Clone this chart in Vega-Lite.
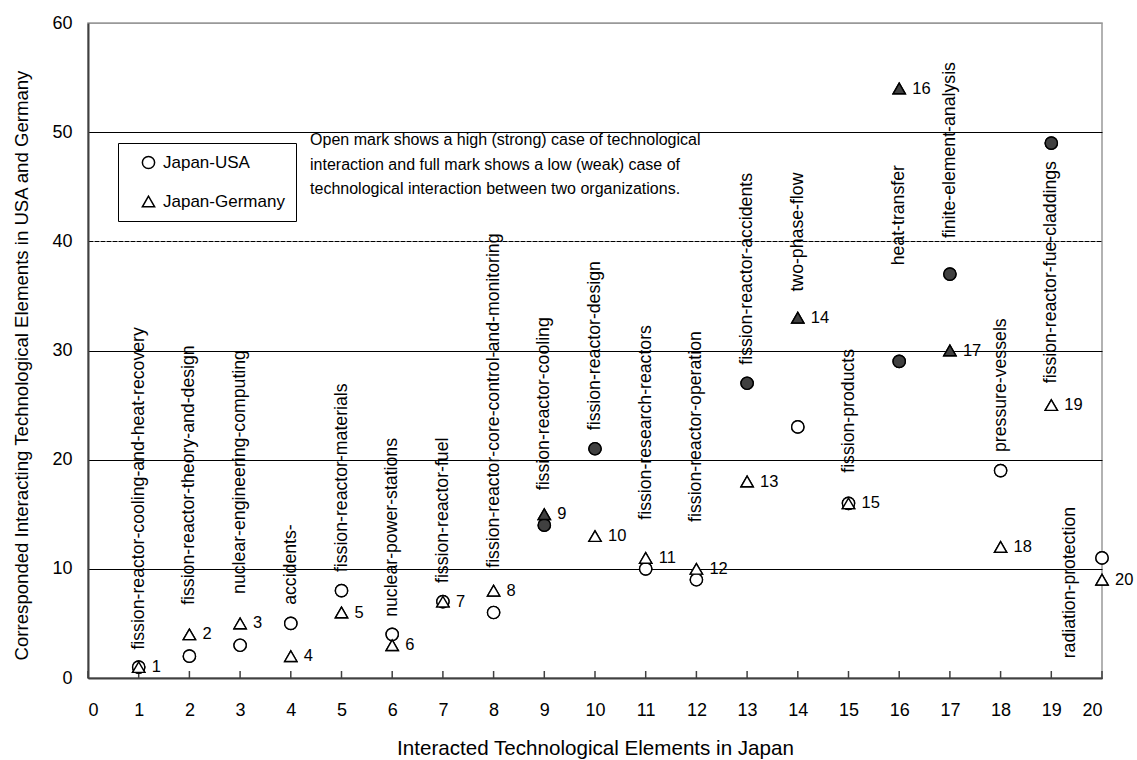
{
  "$schema": "https://vega.github.io/schema/vega-lite/v6.json",
  "width": 1014,
  "height": 655,
  "autosize": {"type": "none"},
  "padding": {"left": 88, "top": 23, "right": 35, "bottom": 82},
  "background": "white",
  "config": {
    "view": {"stroke": "#999999", "strokeWidth": 1.5},
    "font": "Liberation Sans"
  },
  "datasets": {
    "pts": [
      {"x": 1, "series": "Japan-USA", "y": 1, "kind": "open"},
      {"x": 1, "series": "Japan-Germany", "y": 1, "kind": "open"},
      {"x": 2, "series": "Japan-USA", "y": 2, "kind": "open"},
      {"x": 2, "series": "Japan-Germany", "y": 4, "kind": "open"},
      {"x": 3, "series": "Japan-USA", "y": 3, "kind": "open"},
      {"x": 3, "series": "Japan-Germany", "y": 5, "kind": "open"},
      {"x": 4, "series": "Japan-USA", "y": 5, "kind": "open"},
      {"x": 4, "series": "Japan-Germany", "y": 2, "kind": "open"},
      {"x": 5, "series": "Japan-USA", "y": 8, "kind": "open"},
      {"x": 5, "series": "Japan-Germany", "y": 6, "kind": "open"},
      {"x": 6, "series": "Japan-USA", "y": 4, "kind": "open"},
      {"x": 6, "series": "Japan-Germany", "y": 3, "kind": "open"},
      {"x": 7, "series": "Japan-USA", "y": 7, "kind": "open"},
      {"x": 7, "series": "Japan-Germany", "y": 7, "kind": "open"},
      {"x": 8, "series": "Japan-USA", "y": 6, "kind": "open"},
      {"x": 8, "series": "Japan-Germany", "y": 8, "kind": "open"},
      {"x": 9, "series": "Japan-USA", "y": 14, "kind": "full"},
      {"x": 9, "series": "Japan-Germany", "y": 15, "kind": "full"},
      {"x": 10, "series": "Japan-USA", "y": 21, "kind": "full"},
      {"x": 10, "series": "Japan-Germany", "y": 13, "kind": "open"},
      {"x": 11, "series": "Japan-USA", "y": 10, "kind": "open"},
      {"x": 11, "series": "Japan-Germany", "y": 11, "kind": "open"},
      {"x": 12, "series": "Japan-USA", "y": 9, "kind": "open"},
      {"x": 12, "series": "Japan-Germany", "y": 10, "kind": "open"},
      {"x": 13, "series": "Japan-USA", "y": 27, "kind": "full"},
      {"x": 13, "series": "Japan-Germany", "y": 18, "kind": "open"},
      {"x": 14, "series": "Japan-USA", "y": 23, "kind": "open"},
      {"x": 14, "series": "Japan-Germany", "y": 33, "kind": "full"},
      {"x": 15, "series": "Japan-USA", "y": 16, "kind": "open"},
      {"x": 15, "series": "Japan-Germany", "y": 16, "kind": "open"},
      {"x": 16, "series": "Japan-USA", "y": 29, "kind": "full"},
      {"x": 16, "series": "Japan-Germany", "y": 54, "kind": "full"},
      {"x": 17, "series": "Japan-USA", "y": 37, "kind": "full"},
      {"x": 17, "series": "Japan-Germany", "y": 30, "kind": "full"},
      {"x": 18, "series": "Japan-USA", "y": 19, "kind": "open"},
      {"x": 18, "series": "Japan-Germany", "y": 12, "kind": "open"},
      {"x": 19, "series": "Japan-USA", "y": 49, "kind": "full"},
      {"x": 19, "series": "Japan-Germany", "y": 25, "kind": "open"},
      {"x": 20, "series": "Japan-USA", "y": 11, "kind": "open"},
      {"x": 20, "series": "Japan-Germany", "y": 9, "kind": "open"}
    ],
    "labels": [
      {"lx": 1, "ly": 2.6, "name": "fission-reactor-cooling-and-heat-recovery"},
      {"lx": 2, "ly": 6.7, "name": "fission-reactor-theory-and-design"},
      {"lx": 3, "ly": 7.7, "name": "nuclear-engineering-computing"},
      {"lx": 4, "ly": 6.7, "name": "accidents-"},
      {"lx": 5, "ly": 9.7, "name": "fission-reactor-materials"},
      {"lx": 6, "ly": 5.6, "name": "nuclear-power-stations"},
      {"lx": 7, "ly": 8.7, "name": "fission-reactor-fuel"},
      {"lx": 8, "ly": 10.1, "name": "fission-reactor-core-control-and-monitoring"},
      {"lx": 9, "ly": 17.2, "name": "fission-reactor-cooling"},
      {"lx": 10, "ly": 22.7, "name": "fission-reactor-design"},
      {"lx": 11, "ly": 14.5, "name": "fission-research-reactors"},
      {"lx": 12, "ly": 14.3, "name": "fission-reactor-operation"},
      {"lx": 13, "ly": 28.7, "name": "fission-reactor-accidents"},
      {"lx": 14, "ly": 35.4, "name": "two-phase-flow"},
      {"lx": 15, "ly": 18.8, "name": "fission-products"},
      {"lx": 16, "ly": 37.8, "name": "heat-transfer"},
      {"lx": 17, "ly": 40.3, "name": "finite-element-analysis"},
      {"lx": 18, "ly": 20.7, "name": "pressure-vessels"},
      {"lx": 19, "ly": 27.0, "name": "fission-reactor-fue-claddings"},
      {"lx": 19.37, "ly": 1.8, "name": "radiation-protection"}
    ],
    "xticks": [
      {"t": 0}, {"t": 1}, {"t": 2}, {"t": 3}, {"t": 4}, {"t": 5}, {"t": 6}, {"t": 7}, {"t": 8}, {"t": 9}, {"t": 10},
      {"t": 11}, {"t": 12}, {"t": 13}, {"t": 14}, {"t": 15}, {"t": 16}, {"t": 17}, {"t": 18}, {"t": 19}, {"t": 20}
    ],
    "note": [
      {"note": ["Open mark shows a high (strong) case of technological", "interaction and full mark shows a low (weak) case of", "technological interaction between two organizations."]}
    ]
  },
  "layer": [
    {
      "data": {"name": "pts"},
      "mark": {"type": "point", "filled": true, "size": 150, "stroke": "black", "strokeWidth": 1.4, "opacity": 1},
      "encoding": {
        "x": {
          "field": "x", "type": "quantitative",
          "scale": {"domain": [0, 20], "nice": false, "zero": true},
          "axis": {
            "values": [0,1,2,3,4,5,6,7,8,9,10,11,12,13,14,15,16,17,18,19,20],
            "grid": false,
            "ticks": false,
            "domainColor": "#404040", "domainWidth": 2,
            "labelPadding": 23,
            "labelFont": "Liberation Sans", "labelFontSize": 18, "labelColor": "black",
            "title": "Interacted Technological Elements in Japan",
            "titleFont": "Liberation Sans", "titleFontSize": 20.6, "titleFontWeight": "normal", "titleColor": "black",
            "titlePadding": 19
          }
        },
        "y": {
          "field": "y", "type": "quantitative",
          "scale": {"domain": [0, 60], "nice": false},
          "axis": {
            "values": [0, 10, 20, 30, 40, 50, 60],
            "grid": true,
            "ticks": false,
            "gridColor": {"condition": {"test": "datum.value === 60", "value": "#999999"}, "value": "black"},
            "gridWidth": 1.2,
            "gridDash": {"condition": {"test": "datum.value === 40", "value": [5, 1]}, "value": []},
            "domainColor": "#404040", "domainWidth": 2,
            "labelPadding": 16,
            "labelFont": "Liberation Sans", "labelFontSize": 18, "labelColor": "black",
            "title": "Corresponded Interacting Technological Elements in USA and Germany",
            "titleFont": "Liberation Sans", "titleFontSize": 18.6, "titleFontWeight": "normal", "titleColor": "black",
            "titlePadding": 20,
            "titleY": 342
          }
        },
        "shape": {
          "field": "series", "type": "nominal",
          "scale": {"domain": ["Japan-USA", "Japan-Germany"], "range": ["circle", "triangle-up"]},
          "legend": {
            "title": null,
            "orient": "none",
            "legendX": 30,
            "legendY": 120,
            "direction": "vertical",
            "strokeColor": "black",
            "fillColor": "white",
            "padding": 11,
            "rowPadding": 20,
            "symbolOffset": 11,
            "symbolSize": 150,
            "symbolFillColor": "white",
            "symbolStrokeColor": "black",
            "symbolStrokeWidth": 1.5,
            "symbolOpacity": 1,
            "labelFont": "Liberation Sans",
            "labelFontSize": 17,
            "labelColor": "black",
            "labelOffset": 6
          }
        },
        "fill": {
          "field": "kind", "type": "nominal",
          "scale": {"domain": ["open", "full"], "range": ["white", "#404040"]},
          "legend": null
        }
      }
    },
    {
      "data": {"name": "xticks"},
      "mark": {"type": "rule", "color": "#404040", "strokeWidth": 1.5},
      "encoding": {
        "x": {"field": "t", "type": "quantitative"},
        "y": {"datum": 0, "type": "quantitative"},
        "y2": {"datum": 0.64}
      }
    },
    {
      "mark": {"type": "rule", "color": "black", "strokeWidth": 1, "strokeDash": [9, 3, 2, 3]},
      "encoding": {
        "x": {"datum": 0, "type": "quantitative"},
        "y": {"datum": 0, "type": "quantitative"},
        "x2": {"datum": 20},
        "y2": {"datum": 20}
      }
    },
    {
      "data": {"name": "pts"},
      "transform": [{"filter": "datum.series === 'Japan-USA'"}],
      "mark": {"type": "point", "filled": true, "size": 150, "stroke": "black", "strokeWidth": 1.4, "opacity": 1, "shape": "circle"},
      "encoding": {
        "x": {"field": "x", "type": "quantitative"},
        "y": {"field": "y", "type": "quantitative"},
        "fill": {"field": "kind", "type": "nominal", "legend": null}
      }
    },
    {
      "data": {"name": "pts"},
      "transform": [{"filter": "datum.series === 'Japan-Germany'"}],
      "mark": {"type": "point", "filled": true, "size": 150, "stroke": "black", "strokeWidth": 1.4, "opacity": 1, "shape": "triangle-up"},
      "encoding": {
        "x": {"field": "x", "type": "quantitative"},
        "y": {"field": "y", "type": "quantitative"},
        "fill": {"field": "kind", "type": "nominal", "legend": null}
      }
    },
    {
      "data": {"name": "pts"},
      "transform": [{"filter": "datum.series === 'Japan-Germany'"}],
      "mark": {"type": "text", "align": "left", "baseline": "middle", "dx": 13, "font": "Liberation Sans", "fontSize": 16.5, "color": "black"},
      "encoding": {
        "x": {"field": "x", "type": "quantitative"},
        "y": {"field": "y", "type": "quantitative"},
        "text": {"field": "x", "type": "quantitative"}
      }
    },
    {
      "data": {"name": "labels"},
      "mark": {"type": "text", "angle": 270, "align": "left", "baseline": "middle", "font": "Liberation Sans", "fontSize": 17.7, "color": "black"},
      "encoding": {
        "x": {"field": "lx", "type": "quantitative"},
        "y": {"field": "ly", "type": "quantitative"},
        "text": {"field": "name", "type": "nominal"}
      }
    },
    {
      "data": {"name": "note"},
      "mark": {"type": "text", "align": "left", "baseline": "top", "font": "Liberation Sans", "fontSize": 16, "color": "black", "lineHeight": 24.5},
      "encoding": {
        "x": {"datum": 4.38, "type": "quantitative"},
        "y": {"datum": 50.0, "type": "quantitative"},
        "text": {"field": "note"}
      }
    }
  ]
}
